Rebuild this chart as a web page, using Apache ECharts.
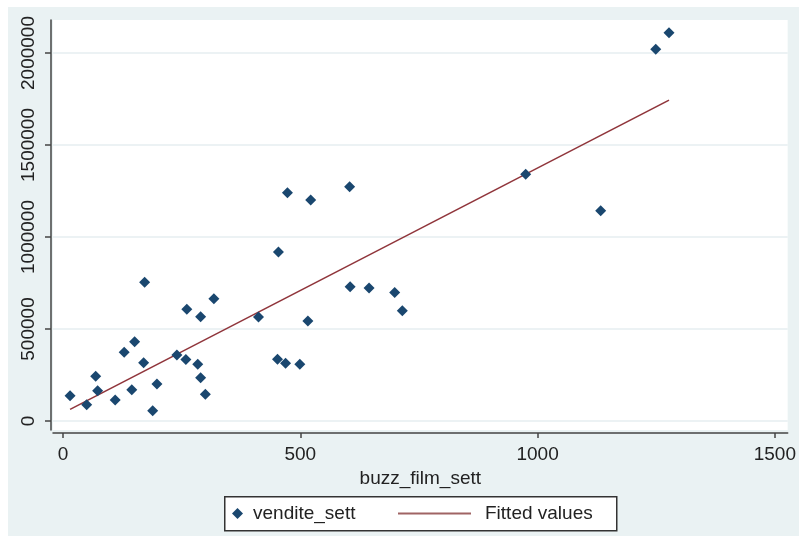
<!DOCTYPE html>
<html>
<head>
<meta charset="utf-8">
<script src="https://cdn.jsdelivr.net/npm/echarts@6/dist/echarts.min.js"></script>
<style>
html,body{margin:0;padding:0;background:#ffffff;width:799px;height:536px;overflow:hidden;}
#chart{position:absolute;left:8px;top:7px;width:791px;height:529px;}
</style>
</head>
<body>
<div id="chart"></div>
<script>
// buzz_film_sett (x) and vendite_sett (y)
const buzzFilmSett = [15, 50, 69, 73, 110, 129, 145, 151, 170, 172, 189, 198, 240, 259, 261, 284, 290, 290, 300, 318,
  412, 454, 452, 473, 469, 499, 522, 516, 604, 605, 645, 699, 715, 975, 1133, 1249, 1277];
const venditeSett = [137000, 89000, 243000, 165000, 114000, 373000, 170000, 431000, 317000, 754000, 56000, 201000, 359000, 334000, 607000, 308000, 567000, 235000, 145000, 665000,
  565000, 918000, 335000, 1241000, 314000, 308000, 1201000, 543000, 1273000, 730000, 723000, 698000, 599000, 1341000, 1143000, 2020000, 2110000];
// Fitted values line endpoints
const fittedX = [15, 1277];
const fittedY = [63000, 1744000];
// tick labels
const xTicks = [0, 500, 1000, 1500];
const yTicks = [0, 500000, 1000000, 1500000, 2000000];

const scatterData = buzzFilmSett.map((x, i) => [x, venditeSett[i]]);
const fittedData = fittedX.map((x, i) => [x, fittedY[i]]);

const FONT = 'Liberation Sans, Arial, sans-serif';
const chart = echarts.init(document.getElementById('chart'));
chart.setOption({
  backgroundColor: '#eaf2f3',
  animation: false,
  textStyle: { fontFamily: FONT },
  grid: {
    left: 45, top: 13, right: 10, bottom: 106,
    show: true, backgroundColor: '#ffffff', borderWidth: 0
  },
  xAxis: {
    type: 'value',
    min: -21, max: 1527,
    offset: 3,
    name: 'buzz_film_sett',
    nameLocation: 'middle',
    nameGap: 31,
    nameTextStyle: { fontSize: 19, color: '#222', fontFamily: FONT },
    axisLine: { show: true, onZero: false, lineStyle: { color: '#444', width: 1.5 } },
    axisTick: { show: true, length: 5, customValues: xTicks, lineStyle: { color: '#444', width: 1.5 } },
    axisLabel: { customValues: xTicks, fontSize: 19, color: '#222', margin: 12, fontFamily: FONT,
      formatter: v => String(v) },
    splitLine: { show: false }
  },
  yAxis: {
    type: 'value',
    min: -48900, max: 2179400,
    offset: 2,
    axisLine: { show: true, onZero: false, lineStyle: { color: '#444', width: 1.5 } },
    axisTick: { show: true, length: 6, customValues: yTicks, lineStyle: { color: '#444', width: 1.5 } },
    axisLabel: { customValues: yTicks, fontSize: 19, color: '#222', margin: 13, rotate: 90, fontFamily: FONT,
      formatter: v => String(v) },
    splitLine: { show: true, lineStyle: { color: '#e6eef0', width: 1.5 } }
  },
  legend: [
    {
      data: ['vendite_sett'],
      left: 224, top: 497,
      orient: 'horizontal',
      itemWidth: 11, itemHeight: 11,
      padding: 0,
      textStyle: { fontSize: 19, color: '#222', fontFamily: FONT, padding: [0, 0, 0, 5] },
      z: 10
    },
    {
      data: [{ name: 'Fitted values', icon: 'rect', itemStyle: { color: '#a06464' } }],
      left: 390, top: 497,
      itemWidth: 73, itemHeight: 2,
      padding: 0,
      textStyle: { fontSize: 19, color: '#222', fontFamily: FONT, padding: [0, 0, 0, 9] },
      z: 10
    }
  ],
  graphic: [
    {
      type: 'rect',
      left: 216, top: 489,
      shape: { width: 392, height: 34 },
      style: { fill: '#ffffff', stroke: '#333', lineWidth: 1.5 },
      z: 1
    }
  ],
  series: [
    {
      name: 'vendite_sett',
      type: 'scatter',
      data: scatterData,
      symbol: 'diamond',
      symbolSize: 11,
      itemStyle: { color: '#1a476f', opacity: 1 },
      z: 3
    },
    {
      name: 'Fitted values',
      type: 'line',
      data: fittedData,
      showSymbol: false,
      symbol: 'none',
      lineStyle: { color: '#90353b', width: 1.6 },
      itemStyle: { color: '#90353b' },
      z: 2
    }
  ]
});
</script>
</body>
</html>
